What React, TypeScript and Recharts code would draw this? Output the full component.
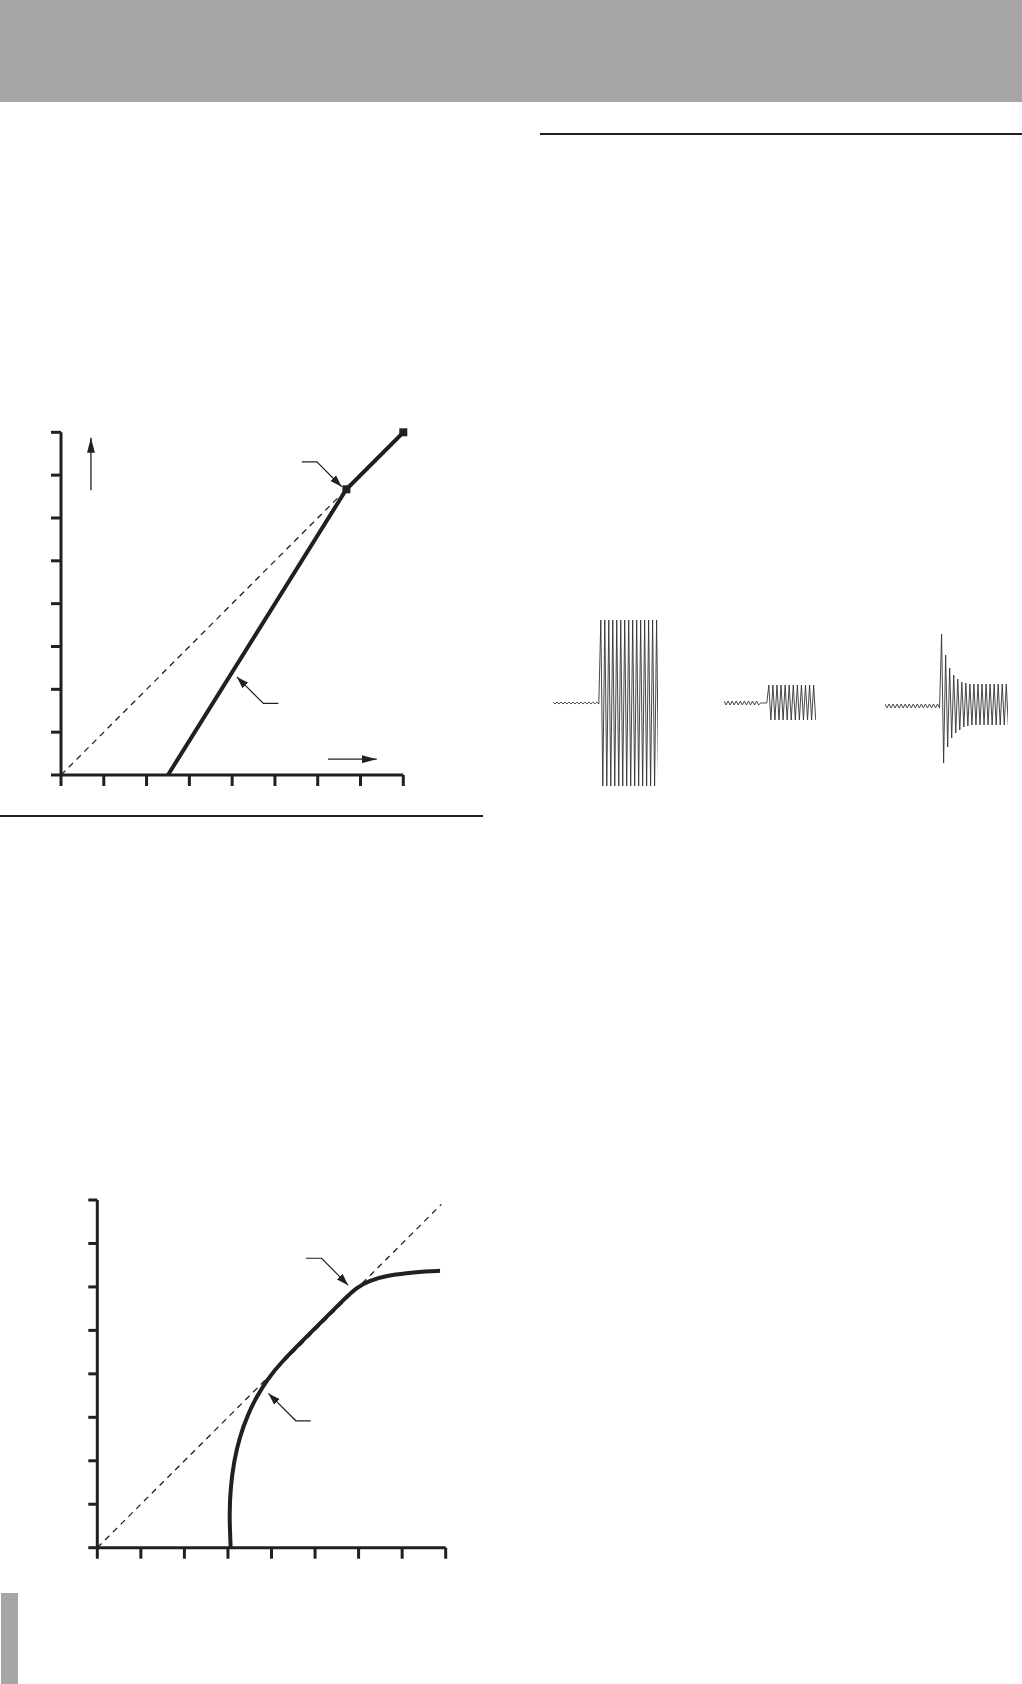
import { LineChart, Line, XAxis, YAxis } from "recharts";

const ink = "#231f20";
const band = "#a7a5a6";
const waveInk = "#333333";

// both transfer plots use 8 tick steps on each axis
const gridTicks = [0, 1, 2, 3, 4, 5, 6, 7, 8];

// upper plot (expander-like curve)
const expRefX = [0, 6.67];
const expRefY = [0, 6.67];
const expCurveX = [2.5, 6.67, 8];
const expCurveY = [0, 6.67, 8];
const expPointerTopX = [5.63, 5.98, 6.56];
const expPointerTopY = [7.31, 7.31, 6.73];
const expPointerLowX = [5.08, 4.73, 4.11];
const expPointerLowY = [1.67, 1.67, 2.29];
const expArrowUpX = [0.7, 0.7];
const expArrowUpY = [6.65, 7.87];
const expArrowRightX = [6.24, 7.38];
const expArrowRightY = [0.37, 0.37];

// lower plot (limiter-like curve)
const limRefX = [0, 7.9];
const limRefY = [0, 7.9];
const limCurveX = [3.06, 3.06, 3.03, 3.06, 3.14, 3.27, 3.45, 3.66, 3.9, 4.2, 5.0, 5.72, 5.95, 6.25, 6.65, 7.1, 7.55, 7.87, 7.87];
const limCurveY = [0, 0.1, 0.75, 1.4, 2.0, 2.55, 3.05, 3.48, 3.86, 4.25, 5.05, 5.77, 5.98, 6.15, 6.26, 6.32, 6.36, 6.37, 6.37];
const limPointerTopX = [4.79, 5.15, 5.76];
const limPointerTopY = [6.66, 6.66, 6.04];
const limPointerLowX = [4.9, 4.56, 3.93];
const limPointerLowY = [2.92, 2.92, 3.55];

// waveforms: peak and trough of each cycle, 0 = baseline
const wave1Hi = [1, 1, 1, 1, 1, 1, 1, 1, 1, 1, 1, 1, 83, 83, 83, 83, 83, 83, 83, 83, 83, 83, 83, 83, 83, 83, 83];
const wave1Lo = [-1, -1, -1, -1, -1, -1, -1, -1, -1, -1, -1, -1, -83, -83, -83, -83, -83, -83, -83, -83, -83, -83, -83, -83, -83, -83, -83];
const wave2Hi = [2, 2, 2, 2, 2, 2, 2, 2, 2, 0, 0, 18, 18, 18, 18, 18, 18, 18, 18, 18, 18, 18, 18];
const wave2Lo = [-2, -2, -2, -2, -2, -2, -2, -2, -2, 0, 0, -17, -17, -17, -17, -17, -17, -17, -17, -17, -17, -17, -17];
const wave3Hi = [2, 2, 2, 2, 2, 2, 2, 2, 2, 2, 2, 2, 2, 2, 72, 51, 38, 31, 27, 24, 23, 22, 22, 22, 22, 22, 22, 22, 22, 22, 22];
const wave3Lo = [-2, -2, -2, -2, -2, -2, -2, -2, -2, -2, -2, -2, -2, -2, -57, -41, -32, -27, -24, -21, -20, -19, -19, -19, -19, -19, -19, -19, -19, -19, -19];

const pts = (xs: number[], ys: number[]) => xs.map((x, i) => ({ x, y: ys[i] }));
const zig = (hi: number[], lo: number[]) =>
  hi.flatMap((h, i) => [
    { t: 2 * i, v: h },
    { t: 2 * i + 1, v: lo[i] },
  ]);

const axisStyle = { stroke: ink, strokeWidth: 3 };
// tick marks only, no labels
const noLabel = (props: any) => <g key={`t-${props.index}`} />;

const Square = (props: any) => {
  const { cx, cy, index } = props;
  if (index === 0) return <g key={`sq-${index}`} />;
  return <rect key={`sq-${index}`} x={cx - 4} y={cy - 4} width={8} height={8} fill={ink} />;
};

const Markers = ({ id }: { id: string }) => (
  <defs>
    <marker id={`${id}-small`} viewBox="0 0 12 8" refX={12} refY={4} markerWidth={12} markerHeight={8} markerUnits="userSpaceOnUse" orient="auto">
      <path d="M0,0 L12,4 L0,8 z" fill={ink} />
    </marker>
    <marker id={`${id}-big`} viewBox="0 0 15 8" refX={15} refY={4} markerWidth={15} markerHeight={8} markerUnits="userSpaceOnUse" orient="auto">
      <path d="M0,0 L15,4 L0,8 z" fill={ink} />
    </marker>
  </defs>
);

const ExpanderChart = () => (
  <LineChart width={440} height={400} margin={{ top: 32.3, right: 36.7, bottom: 5, left: 31 }}>
    <Markers id="exp" />
    <XAxis type="number" dataKey="x" domain={[0, 8]} ticks={gridTicks} interval={0} tick={noLabel} tickSize={11} height={20} axisLine={axisStyle} tickLine={axisStyle} />
    <YAxis type="number" dataKey="y" domain={[0, 8]} ticks={gridTicks} interval={0} tick={noLabel} tickSize={10} width={30} axisLine={axisStyle} tickLine={axisStyle} />
    <Line data={pts(expRefX, expRefY)} dataKey="y" stroke={ink} strokeWidth={1.3} strokeDasharray="6 5" dot={false} isAnimationActive={false} />
    <Line data={pts(expCurveX, expCurveY)} dataKey="y" stroke={ink} strokeWidth={4} dot={Square} isAnimationActive={false} />
    <Line data={pts(expPointerTopX, expPointerTopY)} dataKey="y" stroke={ink} strokeWidth={1.2} markerEnd="url(#exp-small)" dot={false} isAnimationActive={false} />
    <Line data={pts(expPointerLowX, expPointerLowY)} dataKey="y" stroke={ink} strokeWidth={1.2} markerEnd="url(#exp-small)" dot={false} isAnimationActive={false} />
    <Line data={pts(expArrowUpX, expArrowUpY)} dataKey="y" stroke={ink} strokeWidth={1.3} markerEnd="url(#exp-big)" dot={false} isAnimationActive={false} />
    <Line data={pts(expArrowRightX, expArrowRightY)} dataKey="y" stroke={ink} strokeWidth={1.3} markerEnd="url(#exp-big)" dot={false} isAnimationActive={false} />
  </LineChart>
);

const LimiterChart = () => (
  <LineChart width={480} height={420} margin={{ top: 40, right: 34.3, bottom: 12.3, left: 67.3 }}>
    <Markers id="lim" />
    <XAxis type="number" dataKey="x" domain={[0, 8]} ticks={gridTicks} interval={0} tick={noLabel} tickSize={11} height={20} axisLine={axisStyle} tickLine={axisStyle} />
    <YAxis type="number" dataKey="y" domain={[0, 8]} ticks={gridTicks} interval={0} tick={noLabel} tickSize={9} width={30} axisLine={axisStyle} tickLine={axisStyle} />
    <Line data={pts(limRefX, limRefY)} dataKey="y" stroke={ink} strokeWidth={1.3} strokeDasharray="6 5" dot={false} isAnimationActive={false} />
    <Line data={pts(limCurveX, limCurveY)} type="basis" dataKey="y" stroke={ink} strokeWidth={4} dot={false} isAnimationActive={false} />
    <Line data={pts(limPointerTopX, limPointerTopY)} dataKey="y" stroke={ink} strokeWidth={1.2} markerEnd="url(#lim-small)" dot={false} isAnimationActive={false} />
    <Line data={pts(limPointerLowX, limPointerLowY)} dataKey="y" stroke={ink} strokeWidth={1.2} markerEnd="url(#lim-small)" dot={false} isAnimationActive={false} />
  </LineChart>
);

const Wave = ({ hi, lo, width }: { hi: number[]; lo: number[]; width: number }) => {
  const data = zig(hi, lo);
  return (
    <LineChart width={width} height={200} data={data} margin={{ top: 0, right: 0, bottom: 0, left: 0 }}>
      <XAxis type="number" dataKey="t" domain={[0, data.length - 1]} hide />
      <YAxis type="number" domain={[-100, 100]} hide />
      <Line type="linear" dataKey="v" stroke={waveInk} strokeWidth={0.9} dot={false} isAnimationActive={false} />
    </LineChart>
  );
};

const at = (left: number, top: number): React.CSSProperties => ({ position: "absolute", left, top });

export default function App() {
  return (
    <div style={{ position: "absolute", left: 0, top: 0, width: 1022, height: 1684, background: "#fff", overflow: "hidden" }}>
      <div style={{ ...at(0, 0), width: 1022, height: 102, background: band }} />
      <div style={{ ...at(540, 133), width: 482, height: 2, background: ink }} />
      <div style={{ ...at(0, 815), width: 483, height: 1.5, background: ink }} />
      <div style={{ ...at(1, 1593), width: 17, height: 91, background: band }} />
      <div style={at(0, 400)}>
        <ExpanderChart />
      </div>
      <div style={at(0, 1160)}>
        <LimiterChart />
      </div>
      <div style={at(552.7, 603.3)}>
        <Wave hi={wave1Hi} lo={wave1Lo} width={105.6} />
      </div>
      <div style={at(724.3, 603.3)}>
        <Wave hi={wave2Hi} lo={wave2Lo} width={91.7} />
      </div>
      <div style={at(885, 606)}>
        <Wave hi={wave3Hi} lo={wave3Lo} width={123.3} />
      </div>
    </div>
  );
}
